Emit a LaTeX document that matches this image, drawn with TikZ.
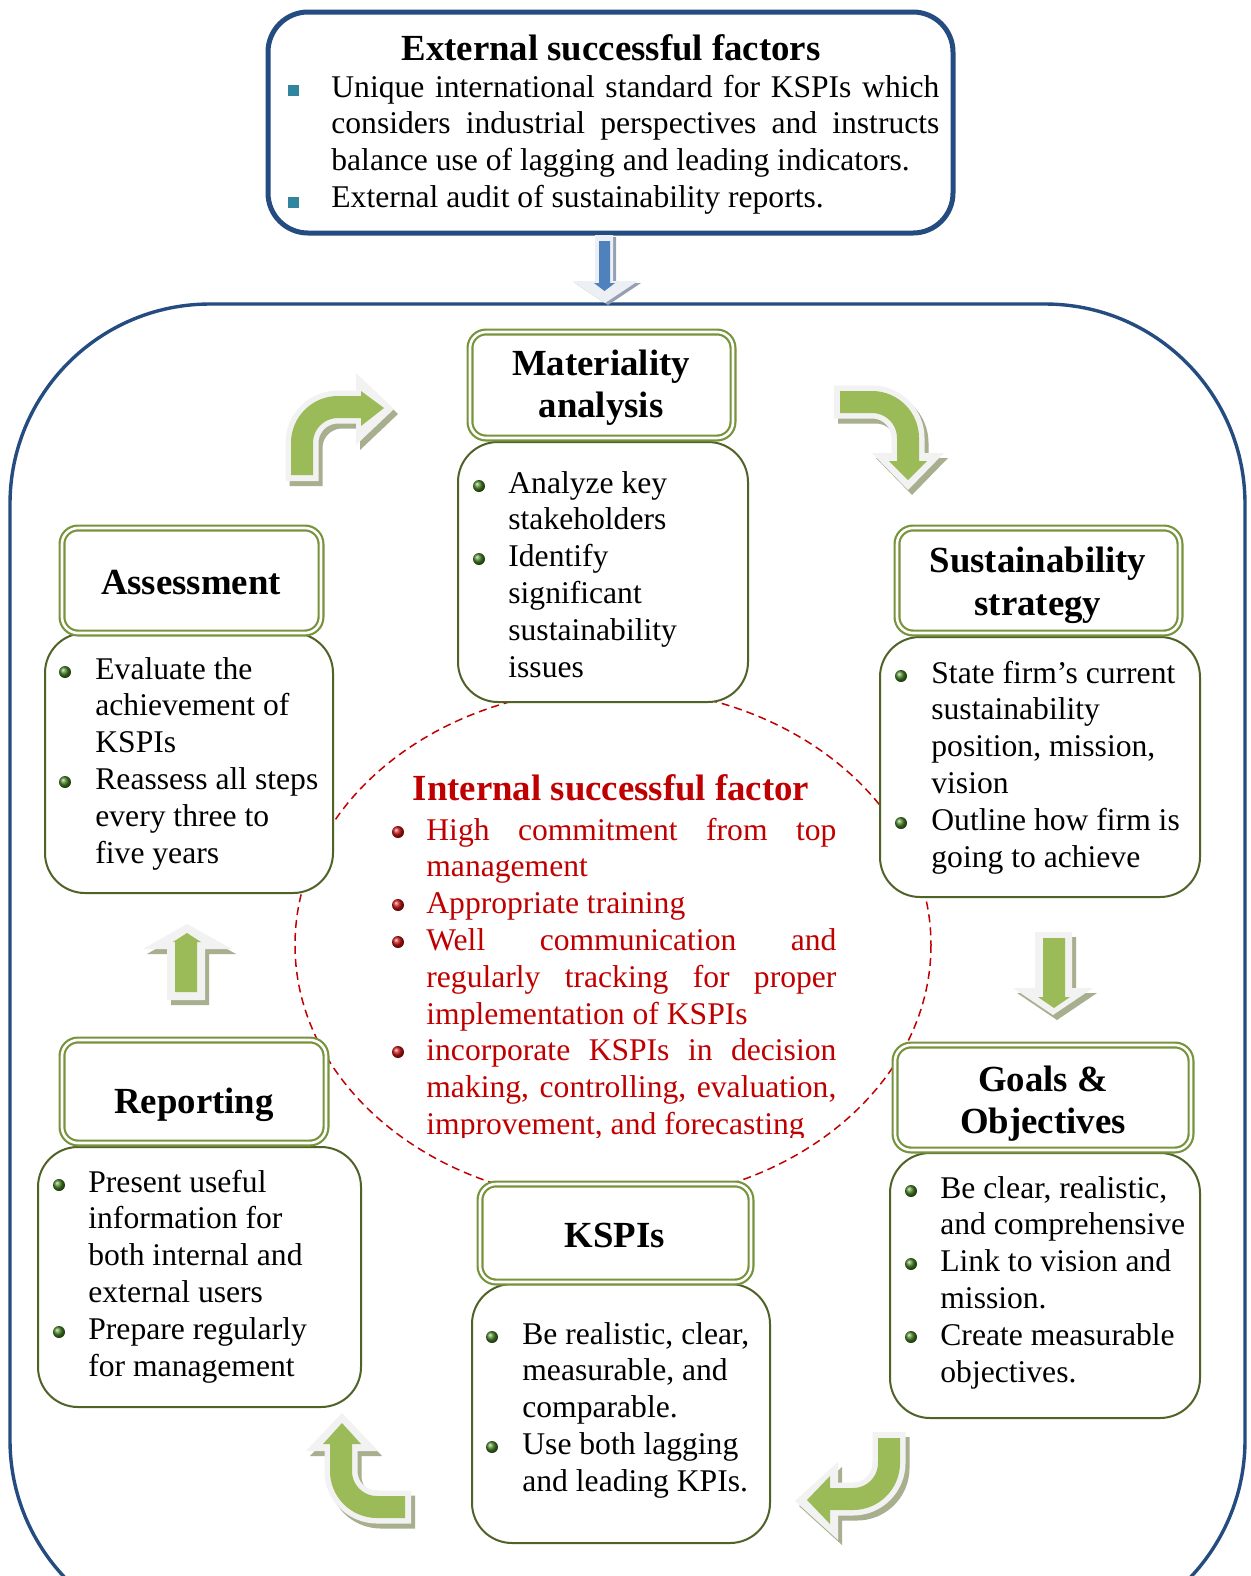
\documentclass[tikz,border=0pt]{standalone}
\usepackage{fontspec}
\setmainfont{Liberation Serif}
\definecolor{frameblue}{RGB}{36,76,128}
\definecolor{tgreen}{RGB}{119,147,60}
\definecolor{dgreen}{RGB}{79,98,40}
\definecolor{ired}{RGB}{192,0,0}
\definecolor{argreen}{RGB}{155,187,89}
\definecolor{arout}{RGB}{242,242,242}
\definecolor{arshadow}{RGB}{167,175,143}
\definecolor{arblue}{RGB}{79,129,189}
\definecolor{arblueout}{RGB}{236,239,243}
\definecolor{arblueshadow}{RGB}{150,160,178}
\definecolor{sqteal}{RGB}{49,133,156}
\definecolor{bgreen}{RGB}{70,130,35}
\definecolor{bred}{RGB}{200,20,20}
\newcommand{\bodyf}{\fontsize{15.8pt}{18.5pt}\selectfont}
\newcommand{\titlef}{\fontsize{18.4pt}{21.5pt}\selectfont\bfseries}
\newcommand{\txtlines}[5]{%
  \foreach \lineitem [count=\i from 0] in {#5}{%
    \node[#4] (#1\i) at (#2,{#3+36.8*\i}) {\lineitem};}}
\newcommand{\gb}[2]{\shade[ball color=bgreen] (#1,#2) circle (6);}
\newcommand{\rb}[2]{\shade[ball color=bred] (#1,#2) circle (6);}
\newcommand{\bentarrow}[3]{%
  \begin{scope}[shift={(4,5)}]
    \draw[arshadow, line width=16.5pt, rounded corners=18pt, shorten <=-3pt] #1;
    \fill[arshadow] #2;
  \end{scope}
  \draw[arout, line width=16.5pt, rounded corners=18pt, shorten <=-3pt] #1;
  \fill[arout] #2;
  \draw[argreen, line width=11pt, rounded corners=18pt] #1;
  \fill[argreen] #3;}
\newcommand{\straightarr}[2]{%
  \fill[arshadow, shift={(4,5)}] #1;
  \fill[arout] #1;
  \fill[argreen] #2;}
\tikzset{
  body/.style={anchor=base west, inner sep=0pt, font=\bodyf},
  redbody/.style={body, text=ired},
  ttl/.style={anchor=base, inner sep=0pt, font=\titlef},
  titlebox/.style={draw=tgreen, double=white, double distance=1.3pt, line width=1.1pt, rounded corners=8pt, fill=white, inner sep=0pt},
  contentbox/.style={draw=dgreen, line width=1pt, rounded corners=20pt, fill=white, inner sep=0pt},
  topbox/.style={draw=frameblue, line width=2.5pt, rounded corners=20pt, fill=white, inner sep=0pt},
}
\begin{document}
\begin{tikzpicture}[x=0.5pt,y=-0.5pt]
\useasboundingbox (0,0) rectangle (1251,1576);
\clip (0,0) rectangle (1251,1576);
\fill[white] (0,0) rectangle (1251,1576);
% big frame
\draw[frameblue, line width=1.7pt, rounded corners=100pt] (10,304) rectangle (1245,1640);
% top box
\node[topbox, minimum width=342.5pt, minimum height=110.5pt] (ext) at (610.5,122.5) {};
\node[ttl] (extT) at (611,60) {External successful factors};
\txtlines{ext}{331}{97}{body}{{\makebox[304pt][s]{Unique international standard for KSPIs which}},{\makebox[304pt][s]{considers industrial perspectives and instructs}},balance use of lagging and leading indicators.,External audit of sustainability reports.}
\fill[sqteal] (288,85) rectangle (299,96);
\fill[sqteal] (288,197) rectangle (299,208);
% blue arrow
\fill[arblueshadow, shift={(3,2)}] (595,235) -- (613,235) -- (613,281) -- (638,281) -- (605,303) -- (572,281) -- (595,281) -- cycle;
\fill[arblueout] (595,235) -- (613,235) -- (613,281) -- (638,281) -- (605,303) -- (572,281) -- (595,281) -- cycle;
\fill[arblue] (599,241) -- (610,241) -- (610,283) -- (615,283) -- (604.5,291) -- (594,283) -- (599,283) -- cycle;
% dashed ellipse
\draw[ired, line width=0.75pt, dash pattern=on 4pt off 2.5pt] (613,945) ellipse [x radius=318, y radius=257];
% content boxes
\node[contentbox, minimum width=145pt, minimum height=130pt] (matC) at (603,572) {};
\node[contentbox, minimum width=160pt, minimum height=130pt] (susC) at (1040,767) {};
\node[contentbox, minimum width=155pt, minimum height=132.5pt] (goalC) at (1045,1285.5) {};
\node[contentbox, minimum width=149pt, minimum height=129.5pt] (kspC) at (621,1413.5) {};
\node[contentbox, minimum width=161.5pt, minimum height=130pt] (repC) at (199.5,1277) {};
\node[contentbox, minimum width=144pt, minimum height=130pt] (assC) at (189,763) {};
% title boxes
\node[titlebox, minimum width=131.5pt, minimum height=53pt] (matB) at (601.5,385) {};
\node[titlebox, minimum width=141.5pt, minimum height=52.5pt] (susB) at (1038.5,580.5) {};
\node[titlebox, minimum width=148pt, minimum height=52.5pt] (goalB) at (1043,1097.5) {};
\node[titlebox, minimum width=135.5pt, minimum height=49pt] (kspB) at (615.5,1233) {};
\node[titlebox, minimum width=132pt, minimum height=51.5pt] (repB) at (194,1091.5) {};
\node[titlebox, minimum width=129.5pt, minimum height=52.5pt] (assB) at (191.5,580.5) {};
% titles
\node[ttl] (matT1) at (601,375) {Materiality};
\node[ttl] (matT2) at (601,417) {analysis};
\node[ttl] (susT1) at (1038,572) {Sustainability};
\node[ttl] (susT2) at (1038,615) {strategy};
\node[ttl] (goalT1) at (1043,1091) {Goals \&};
\node[ttl] (goalT2) at (1043,1133) {Objectives};
\node[ttl] (kspT) at (615,1247) {KSPIs};
\node[ttl] (repT) at (194,1113) {Reporting};
\node[ttl] (assT) at (191,594) {Assessment};
% contents
\txtlines{mat}{508}{493}{body}{Analyze key,stakeholders,Identify,significant,sustainability,issues}
\gb{479}{486}\gb{479}{559}
\txtlines{sus}{931}{683}{body}{State firm’s current,sustainability,{position, mission,},vision,Outline how firm is,going to achieve}
\gb{901}{676}\gb{901}{823}
\txtlines{goal}{940}{1198}{body}{{Be clear, realistic,},and comprehensive,Link to vision and,mission.,Create measurable,objectives.}
\gb{911}{1191}\gb{911}{1264}\gb{911}{1337}
\txtlines{ksp}{522}{1344}{body}{{Be realistic, clear,},{measurable, and},comparable.,Use both lagging,and leading KPIs.}
\gb{492}{1337}\gb{492}{1447}
\txtlines{rep}{88}{1192}{body}{Present useful,information for,both internal and,external users,Prepare regularly,for management}
\gb{59}{1185}\gb{59}{1332}
\txtlines{ass}{95}{679}{body}{Evaluate the,achievement of,KSPIs,Reassess all steps,every three to,five years}
\gb{65}{672}\gb{65}{782}
% internal factor
\node[ttl, text=ired] (intT) at (611,800) {Internal successful factor};
\txtlines{int}{426}{840}{redbody}{{\makebox[205pt][s]{High commitment from top}},management,Appropriate training,{\makebox[205pt][s]{Well communication and}},{\makebox[205pt][s]{regularly tracking for proper}},implementation of KSPIs,{\makebox[205pt][s]{incorporate KSPIs in decision}},{\makebox[205pt][s]{making, controlling, evaluation,}}}
\begin{scope}
\clip (380,1100) rectangle (860,1137);
\node[redbody] (int8) at (426,1134.4) {improvement, and forecasting};
\end{scope}
\rb{398}{832}\rb{398}{905}\rb{398}{942}\rb{398}{1052}
% green arrows
\bentarrow{(302,475) -- (302,407) -- (364,407)}{(356,373) -- (394,409) -- (356,445) -- cycle}{(361,391) -- (384,408) -- (361,426) -- cycle}
\bentarrow{(840,402) -- (908,402) -- (908,463)}{(872,453) -- (944,453) -- (908,490) -- cycle}{(889,461) -- (927,461) -- (908,480) -- cycle}
\straightarr{(1035,932) -- (1072,932) -- (1072,988) -- (1093,988) -- (1053,1015) -- (1013,988) -- (1035,988) -- cycle}{(1043,938) -- (1065,938) -- (1065,997) -- (1070,997) -- (1054,1008) -- (1038,997) -- (1043,997) -- cycle}
\bentarrow{(889,1438) -- (889,1499) -- (828,1499)}{(838,1462) -- (795,1501) -- (838,1540) -- cycle}{(830,1476) -- (807,1500) -- (830,1524) -- cycle}
\bentarrow{(405,1507) -- (341,1507) -- (341,1442)}{(306,1451) -- (342,1413) -- (378,1451) -- cycle}{(323,1444) -- (342,1423) -- (361,1444) -- cycle}
\straightarr{(167,1000) -- (205,1000) -- (205,949) -- (232,949) -- (187,924) -- (143,949) -- (167,949) -- cycle}{(175,992) -- (197,992) -- (197,942) -- (201,942) -- (187,933) -- (173,942) -- (175,942) -- cycle}
\end{tikzpicture}
\end{document}
